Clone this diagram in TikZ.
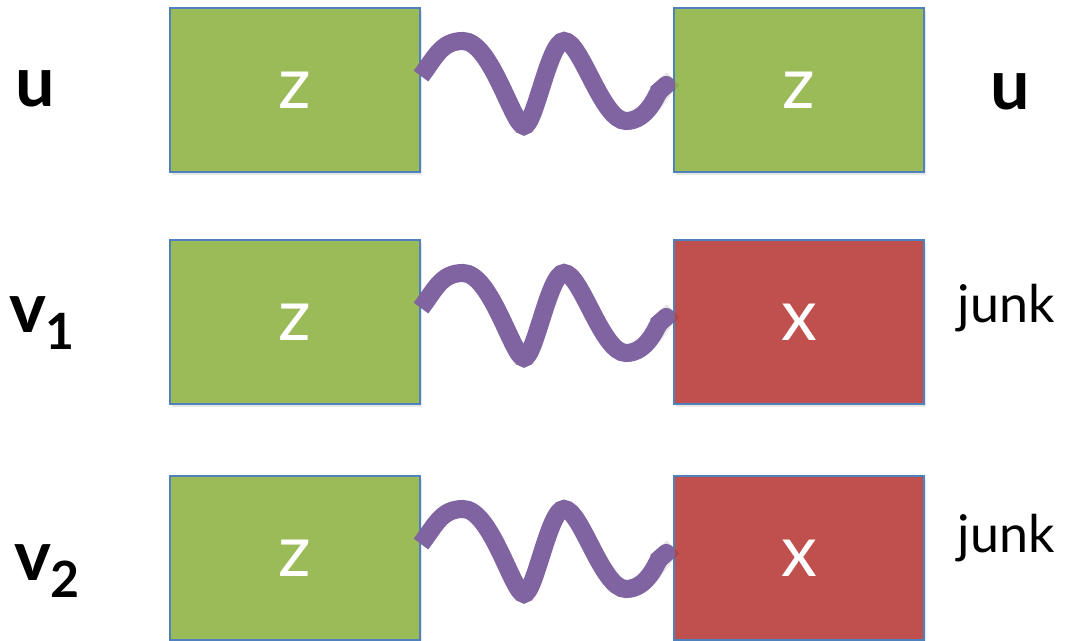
\documentclass[tikz,border=0pt]{standalone}
\usepackage{fontspec}
\setmainfont{Lato}
\usetikzlibrary{arrows.meta,calc,shadows}

\definecolor{cellgreen}{HTML}{9BBB59}
\definecolor{cellred}{HTML}{C0504D}
\definecolor{cellline}{HTML}{4F81BD}
\definecolor{wavepurple}{HTML}{8064A2}

\tikzset{
  cell/.style={draw=cellline, line width=1pt, minimum width=125pt, minimum height=82pt,
    inner sep=0pt, text=white, font=\fontsize{36}{36}\selectfont,
    drop shadow={opacity=0.18, shadow xshift=1pt, shadow yshift=-1.5pt}},
  good/.style={cell, fill=cellgreen},
  bad/.style={cell, fill=cellred},
  wiggle/.style={draw=wavepurple, line width=9pt, -{Round Cap[]}},
  wiggleshade/.style={draw=black, opacity=0.1, line width=9pt},
  word/.style={anchor=base, font=\fontsize{35}{35}\selectfont\bfseries},
  tag/.style={anchor=base, font=\fontsize{26}{26}\selectfont}
}

\newcommand{\subnum}[1]{\raisebox{-8.5pt}{\fontsize{25}{25}\selectfont\bfseries #1}}

\begin{document}
\begin{tikzpicture}[x=0.5pt, y=-0.5pt]
  \useasboundingbox (0,0) rectangle (1075,641);

  % boxes, one row per pair
  \node[good] (zl1) at (295,90) {z};
  \node[good] (zr1) at (799,90) {z};
  \node[good] (zl2) at (295,322) {z};
  \node[bad]  (xr2) at (799,322) {x};
  \node[good] (zl3) at (295,558) {z};
  \node[bad]  (xr3) at (799,558) {x};

  % wavy links between the boxes
  \foreach \a/\b in {zl1/zr1, zl2/xr2, zl3/xr3} {
    \coordinate (s) at ($(\a.east)+(0,-14)$);
    \coordinate (p1) at ($(\a.east)+(42,-49)$);
    \coordinate (t1) at ($(\a.east)+(103,36)$);
    \coordinate (p2) at ($(\a.east)+(143,-49)$);
    \coordinate (t2) at ($(\a.east)+(205,31)$);
    \coordinate (e) at ($(\b.west)+(0,-11)$);
    \foreach \kind/\dx/\dy in {wiggleshade/1.5/3, wiggle/0/0}
      \draw[\kind, shift={(\dx,\dy)}] (s) .. controls +(14,-18) and +(-22,0) .. (p1)
        .. controls +(28,0) and +(-11,0) .. (t1)
        .. controls +(11,0) and +(-15,0) .. (p2)
        .. controls +(17,0) and +(-24,0) .. (t2)
        .. controls +(22,0) and +(-16,14) .. (e);
  }

  % row names on the left
  \node[word] (u) at (35,107) {u};
  \node[word] (v1) at (42,333) {v\subnum{1}};
  \node[word] (v2) at (47,580) {v\subnum{2}};

  % what comes out on the right
  \node[word] (uout) at (1010,110) {u};
  \node[tag] (junk2) at (1006,323) {junk};
  \node[tag] (junk3) at (1006,552) {junk};
\end{tikzpicture}
\end{document}
